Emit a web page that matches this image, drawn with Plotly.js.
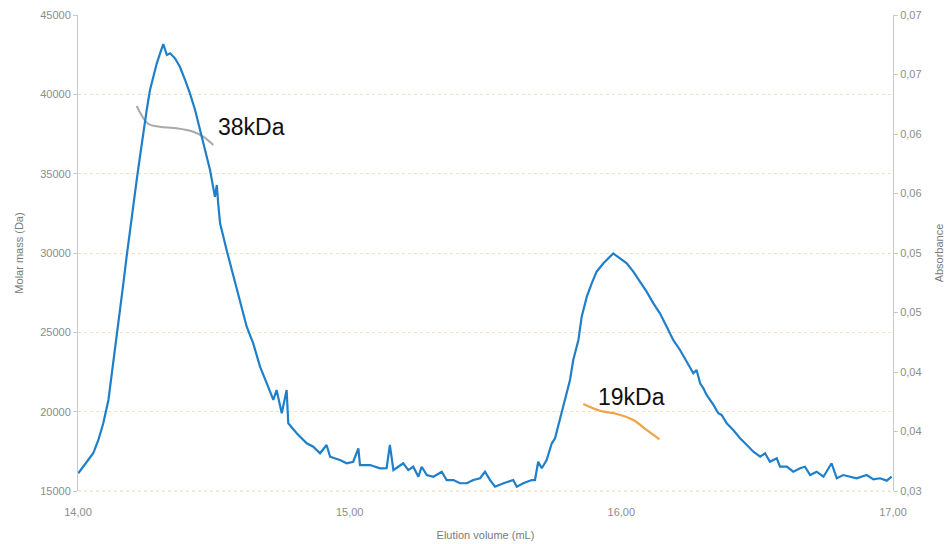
<!DOCTYPE html>
<html>
<head>
<meta charset="utf-8">
<script src="https://cdn.plot.ly/plotly-3.0.1.min.js"></script>
<style>html,body{margin:0;padding:0;background:#fff;}#chart{width:951px;height:544px;}</style>
</head>
<body>
<div id="chart"></div>
<script>
// Absorbance trace (elution volume in mL, absorbance)
const absVolume = [14.001,14.020,14.038,14.056,14.075,14.093,14.112,14.130,14.142,14.155,14.167,14.179,14.191,14.204,14.216,14.228,14.240,14.253,14.265,14.277,14.290,14.302,14.314,14.327,14.339,14.357,14.375,14.394,14.412,14.431,14.449,14.467,14.486,14.504,14.511,14.516,14.523,14.547,14.572,14.596,14.621,14.645,14.670,14.695,14.719,14.731,14.750,14.768,14.774,14.805,14.842,14.866,14.891,14.915,14.928,14.964,14.989,15.013,15.032,15.038,15.075,15.112,15.136,15.148,15.161,15.179,15.197,15.216,15.234,15.253,15.265,15.284,15.308,15.339,15.357,15.382,15.406,15.431,15.455,15.480,15.498,15.517,15.535,15.566,15.602,15.615,15.639,15.670,15.682,15.694,15.707,15.725,15.744,15.756,15.774,15.793,15.811,15.823,15.842,15.854,15.873,15.891,15.909,15.934,15.952,15.970,15.995,16.020,16.044,16.069,16.093,16.118,16.142,16.167,16.191,16.216,16.241,16.265,16.277,16.290,16.302,16.314,16.339,16.357,16.369,16.388,16.412,16.437,16.462,16.486,16.511,16.529,16.547,16.572,16.584,16.609,16.633,16.658,16.676,16.695,16.719,16.744,16.774,16.793,16.817,16.842,16.866,16.903,16.928,16.952,16.977,16.995];
const absValue = [0.03149,0.03204,0.03260,0.03317,0.03429,0.03569,0.03765,0.04073,0.04297,0.04521,0.04745,0.04969,0.05193,0.05389,0.05613,0.05809,0.06006,0.06202,0.06370,0.06481,0.06594,0.06678,0.06756,0.06664,0.06678,0.06636,0.06565,0.06454,0.06342,0.06202,0.06034,0.05865,0.05697,0.05473,0.05571,0.05418,0.05249,0.05025,0.04801,0.04605,0.04381,0.04241,0.04045,0.03905,0.03765,0.03849,0.03653,0.03849,0.03569,0.03485,0.03401,0.03372,0.03317,0.03387,0.03288,0.03260,0.03233,0.03246,0.03359,0.03218,0.03218,0.03190,0.03191,0.03387,0.03176,0.03204,0.03233,0.03176,0.03204,0.03120,0.03204,0.03134,0.03120,0.03162,0.03092,0.03092,0.03065,0.03065,0.03092,0.03107,0.03162,0.03092,0.03036,0.03065,0.03092,0.03036,0.03065,0.03092,0.03092,0.03246,0.03191,0.03260,0.03401,0.03443,0.03597,0.03765,0.03933,0.04101,0.04269,0.04465,0.04633,0.04745,0.04843,0.04913,0.04955,0.04997,0.04955,0.04913,0.04843,0.04759,0.04675,0.04577,0.04493,0.04381,0.04269,0.04185,0.04087,0.03989,0.04017,0.03905,0.03863,0.03807,0.03723,0.03653,0.03639,0.03569,0.03513,0.03443,0.03387,0.03330,0.03288,0.03317,0.03246,0.03275,0.03204,0.03204,0.03162,0.03191,0.03204,0.03134,0.03162,0.03120,0.03233,0.03107,0.03134,0.03120,0.03107,0.03134,0.03098,0.03107,0.03087,0.03120];

// Molar mass across peak 1 (grey) and peak 2 (orange)
const mass1Volume = [14.216,14.259,14.300,14.363,14.424,14.461,14.498];
const mass1Value  = [39265,38130,37960,37860,37645,37330,36807];
const mass2Volume = [15.860,15.921,15.983,16.044,16.093,16.140];
const mass2Value  = [20483,20061,19853,19475,18845,18260];

// Labels
const peakLabels = ["38kDa","19kDa"];
const labelVolume = [14.64,16.037];
const labelMass = [37940,20925];

// Axis ticks
const massTicks = [15000,20000,25000,30000,35000,40000,45000];
const absTickVals = [0.03,0.035,0.04,0.045,0.05,0.055,0.06,0.065,0.07];
const absTickText = ["0,03","0,04","0,04","0,05","0,05","0,06","0,06","0,07","0,07"];
const volTicks = [14,15,16,17];

const tickFont = {family:"Liberation Sans, Arial, sans-serif", size:11, color:"#8c8c8c"};
const xTickFont = {family:"Liberation Sans Narrow, Liberation Sans, Arial, sans-serif", size:11, color:"#8c8c8c"};
const titleFont = {family:"Liberation Sans, Arial, sans-serif", size:11, color:"#7a7a7a"};

const traces = [
  {x:absVolume, y:absValue, yaxis:"y2", type:"scatter", mode:"lines",
   line:{color:"#1f7fc9", width:2.2}, hoverinfo:"x+y"},
  {x:mass1Volume, y:mass1Value, type:"scatter", mode:"lines",
   line:{color:"#a9a9a9", width:2, shape:"spline"}},
  {x:mass2Volume, y:mass2Value, type:"scatter", mode:"lines",
   line:{color:"#f0a445", width:2.2, shape:"spline"}}
];

const layout = {
  width:951, height:544,
  margin:{l:78, r:58, t:15, b:53},
  paper_bgcolor:"#ffffff", plot_bgcolor:"#ffffff",
  showlegend:false,
  separators:", ",
  xaxis:{range:[14,17], tickvals:volTicks, tickformat:".2f",
    showgrid:false, zeroline:false, showline:false,
    ticks:"outside", ticklen:11, tickcolor:"rgba(0,0,0,0)",
    tickfont:xTickFont,
    title:{text:"Elution volume (mL)", font:titleFont, standoff:14}},
  yaxis:{range:[15000,45000], tickvals:massTicks, tickformat:"d",
    showgrid:true, gridcolor:"#ede4bf", griddash:"dot", gridwidth:1,
    zeroline:false, showline:true, linecolor:"#c9c9c9", linewidth:1,
    ticks:"outside", ticklen:4, tickcolor:"#c9c9c9",
    tickfont:tickFont,
    title:{text:"Molar mass (Da)", font:titleFont, standoff:14}},
  yaxis2:{range:[0.03,0.07], overlaying:"y", side:"right",
    tickvals:absTickVals, ticktext:absTickText,
    showgrid:false, zeroline:false, showline:true, linecolor:"#c9c9c9", linewidth:1,
    ticks:"outside", ticklen:4, tickcolor:"#c9c9c9",
    tickfont:tickFont,
    title:{text:"Absorbance", font:titleFont, standoff:14}},
  shapes:[{type:"line", xref:"paper", yref:"paper", x0:0, x1:1, y0:0, y1:0,
    line:{color:"#e3d9a8", width:1, dash:"dot"}, layer:"below"}],
  annotations: peakLabels.map((t,i)=>({x:labelVolume[i], y:labelMass[i], xref:"x", yref:"y",
    text:t, showarrow:false, font:{family:"Liberation Sans, Arial, sans-serif", size:23, color:"#111111"}}))
};

Plotly.newPlot("chart", traces, layout, {displayModeBar:false, staticPlot:true});
</script>
</body>
</html>
